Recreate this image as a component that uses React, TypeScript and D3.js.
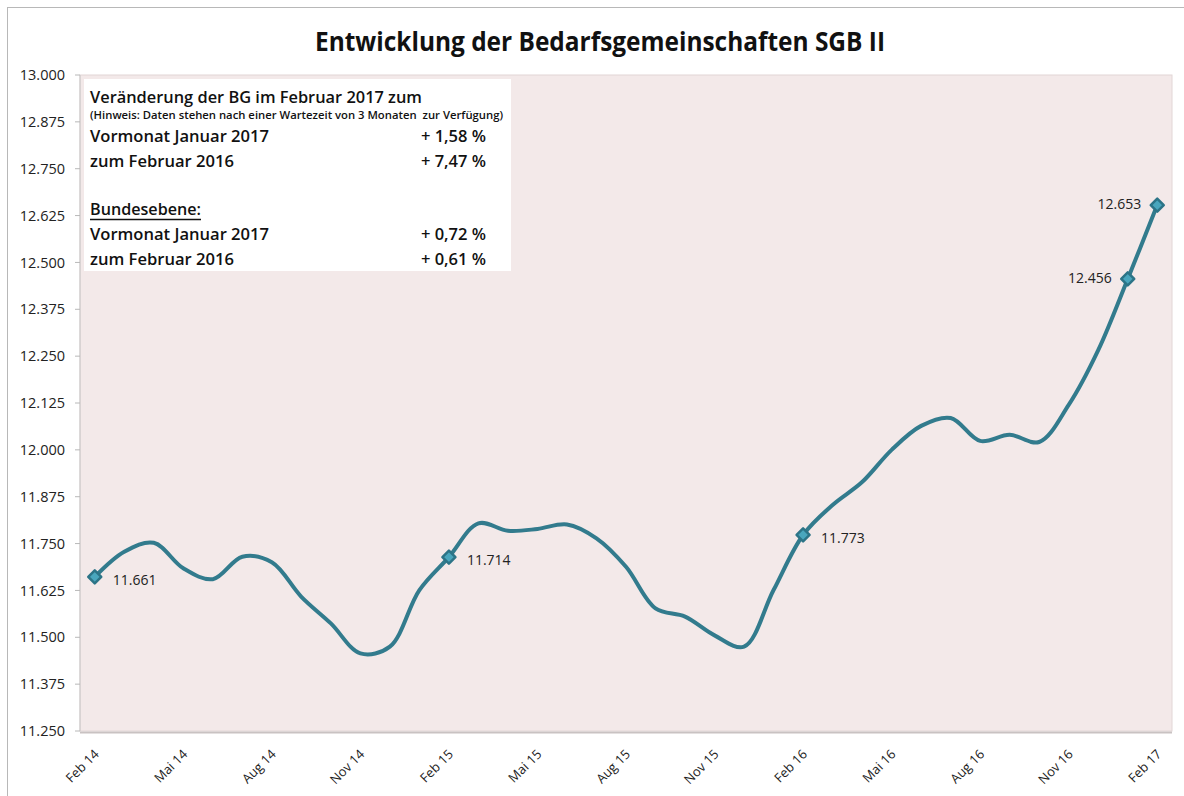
import React from "react";
import * as d3 from "d3";

const months: string[] = [
  "Feb 14","Mrz 14","Apr 14","Mai 14","Jun 14","Jul 14","Aug 14","Sep 14","Okt 14","Nov 14","Dez 14","Jan 15",
  "Feb 15","Mrz 15","Apr 15","Mai 15","Jun 15","Jul 15","Aug 15","Sep 15","Okt 15","Nov 15","Dez 15","Jan 16",
  "Feb 16","Mrz 16","Apr 16","Mai 16","Jun 16","Jul 16","Aug 16","Sep 16","Okt 16","Nov 16","Dez 16","Jan 17",
  "Feb 17",
];

const values: number[] = [
  11661, 11728, 11752, 11684, 11655, 11715, 11700, 11608, 11537, 11457, 11475, 11626,
  11714, 11804, 11784, 11789, 11801, 11764, 11688, 11577, 11555, 11505, 11475, 11626,
  11773, 11853, 11914, 12000, 12064, 12085, 12024, 12040, 12021, 12120, 12266, 12456,
  12653,
];

// months that carry a marker and a data label, and on which side the label sits
const labelledMonths: string[] = ["Feb 14", "Feb 15", "Feb 16", "Jan 17", "Feb 17"];
const labelSides: string[] = ["right", "right", "right", "left", "left"];

const yTicks: number[] = d3.range(11250, 13000 + 1, 125);

const title = "Entwicklung der Bedarfsgemeinschaften SGB II";
const boxHeading = "Veränderung der BG im Februar 2017 zum";
const boxNote = "(Hinweis: Daten stehen nach einer Wartezeit von 3 Monaten  zur Verfügung)";
const boxRowsLabels: string[] = ["Vormonat Januar 2017", "zum Februar 2016"];
const boxRowsRegion: string[] = ["+ 1,58 %", "+ 7,47 %"];
const boxSubHeading = "Bundesebene:";
const boxRowsFederal: string[] = ["+ 0,72 %", "+ 0,61 %"];

const de = d3.formatLocale({ decimal: ",", thousands: ".", grouping: [3], currency: ["", " €"] });
const fmt = de.format(",.0f");

export default function App() {
  const W = 1184, H = 796;
  const left = 80, right = 1172, top = 75, bottom = 731;
  const x = d3.scaleBand<string>().domain(months).range([left, right]);
  const cx = (m: string) => (x(m) as number) + x.bandwidth() / 2;
  const y = d3.scaleLinear().domain([11250, 13000]).range([bottom, top]);

  const pts: [number, number][] = months.map((m, i) => [cx(m), y(values[i])]);
  const line = d3.line().curve(d3.curveCatmullRom.alpha(0.5))(pts) as string;

  const font = "'Open Sans', 'DejaVu Sans', sans-serif";
  const lineColor = "#327b8d";
  const diamond = (px: number, py: number, r: number) =>
    `M${px},${py - r}L${px + r},${py}L${px},${py + r}L${px - r},${py}Z`;

  return (
    <svg width={W} height={H} style={{ position: "absolute", left: 0, top: 0, display: "block" }} fontFamily={font}>
      <rect x={0} y={0} width={W} height={H} fill="#ffffff" />
      <rect x={7.5} y={7.5} width={W + 10} height={H + 10} fill="none" stroke="#b8b8b8" strokeWidth={1} />

      <text x={600} y={51} textAnchor="middle" fontSize={27} fontWeight={700} fill="#111"
        textLength={570} lengthAdjust="spacingAndGlyphs">{title}</text>

      {/* plot area */}
      <rect x={left} y={top} width={right - left} height={bottom - top} fill="#f3e9e9" stroke="#e2d6d6" strokeWidth={1} />
      <line x1={left} x2={right} y1={bottom + 1.5} y2={bottom + 1.5} stroke="#c9c2c2" strokeWidth={2} />
      <line x1={left} x2={left} y1={top} y2={bottom} stroke="#c8c8c8" strokeWidth={1} />

      {/* y axis */}
      {yTicks.map((t) => (
        <g key={t}>
          <line x1={left - 5} x2={left} y1={y(t)} y2={y(t)} stroke="#b8b8b8" />
          <text x={65} y={y(t)} dy="0.35em" textAnchor="end" fontSize={14.5} fill="#222">{fmt(t)}</text>
        </g>
      ))}

      {/* x axis labels */}
      {months.map((m, i) =>
        i % 3 === 0 ? (
          <text key={m} transform={`translate(${cx(m) + 5},${755}) rotate(-45)`} textAnchor="end"
            fontSize={13} fill="#222">{m}</text>
        ) : null
      )}

      {/* info box */}
      <rect x={84} y={79} width={427} height={192} fill="#ffffff" />
      <g fontWeight={600} fill="#111">
        <text x={90} y={103} fontSize={16.5} textLength={332} lengthAdjust="spacingAndGlyphs">{boxHeading}</text>
        <text x={90} y={119} fontSize={10.5} textLength={413} lengthAdjust="spacingAndGlyphs"
          style={{ whiteSpace: "pre" }}>{boxNote}</text>
        {boxRowsLabels.map((l, i) => (
          <g key={"r" + i}>
            <text x={90} y={142 + i * 25} fontSize={16.5} textLength={i === 0 ? 179 : 144} lengthAdjust="spacingAndGlyphs">{l}</text>
            <text x={486} y={142 + i * 25} fontSize={16.5} textAnchor="end">{boxRowsRegion[i]}</text>
          </g>
        ))}
        <text x={90} y={215} fontSize={16.5} textLength={111} lengthAdjust="spacingAndGlyphs">{boxSubHeading}</text>
        <line x1={90} x2={201} y1={219.5} y2={219.5} stroke="#111" strokeWidth={1.3} />
        {boxRowsLabels.map((l, i) => (
          <g key={"f" + i}>
            <text x={90} y={240 + i * 25} fontSize={16.5} textLength={i === 0 ? 179 : 144} lengthAdjust="spacingAndGlyphs">{l}</text>
            <text x={486} y={240 + i * 25} fontSize={16.5} textAnchor="end">{boxRowsFederal[i]}</text>
          </g>
        ))}
      </g>

      {/* series */}
      <path d={line} fill="none" stroke={lineColor} strokeWidth={4} strokeLinejoin="round" strokeLinecap="round" />

      {labelledMonths.map((m, k) => {
        const i = months.indexOf(m);
        const px = cx(m), py = y(values[i]);
        const side = labelSides[k];
        return (
          <g key={m}>
            <path d={diamond(px, py, 6.5)} fill="#49a6bd" stroke="#2c7487" strokeWidth={2.5} strokeLinejoin="round" />
            <text x={side === "right" ? px + 18 : px - 16} y={py + (side === "right" ? 3 : -1)} dy="0.35em"
              textAnchor={side === "right" ? "start" : "end"} fontSize={14} fill="#222">{fmt(values[i])}</text>
          </g>
        );
      })}
    </svg>
  );
}
